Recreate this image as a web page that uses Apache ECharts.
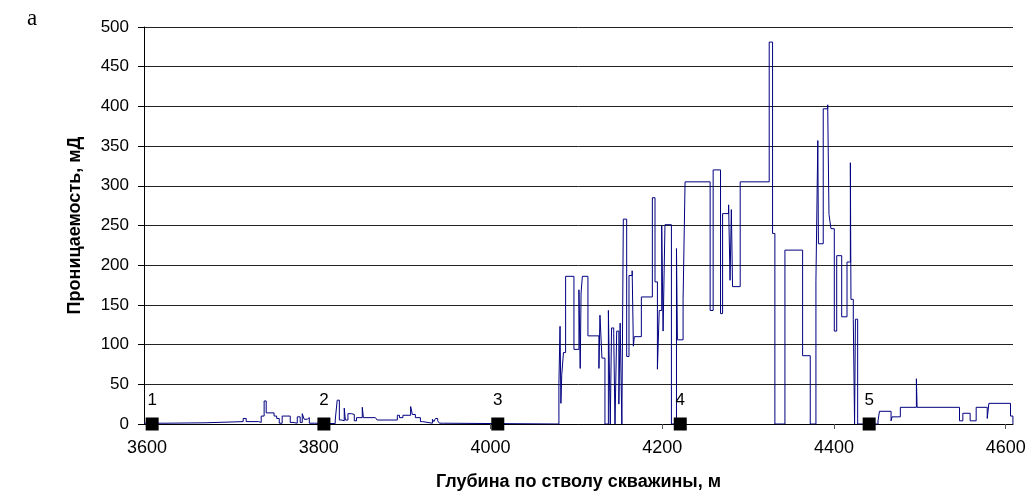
<!DOCTYPE html>
<html>
<head>
<meta charset="utf-8">
<script src="https://cdn.jsdelivr.net/npm/echarts@6/dist/echarts.min.js"></script>
<style>
html,body{margin:0;padding:0;background:#fff;}
#chart{width:1032px;height:498px;}
</style>
</head>
<body>
<div id="chart"></div>
<script>
// Depth (m) where each permeability step begins
const depths = [
3596.5,3621,3667.6,3712,3715.5,3730,3733,3736.4,3738.8,3748,3751,3754,3757.4,3766.8,3770,3775,3778.4,3780.8,3783,3786.6,3789,3795,
3819.2,3821.5,3824,3827,3829.7,3831,3834,3838,3841.4,3844,3850.7,3852,3866,3868,
3891.5,3894,3898,3907,3909,3912.5,3918.4,3921,3932.4,3934,3936,3938.5,3940.5,3945.2,
4079.7,4081,4082,4083,4085,4087.5,4097.2,4103,4104.5,4105.5,4107,4113.5,
4126.3,4127.5,4129.8,4133.3,4137.3,4139.5,4141,4143.5,4145,4147,4149.5,4151,4153,
4154.7,4158.6,4161.3,4165,4166.4,4167.5,4175.7,4188.5,4191.6,4194.4,4196.5,4199.4,4201,4203.2,4210.7,
4216.6,4217.7,4224.3,4226.6,4255.8,4259.3,4267.9,4270.3,4277.3,4279,4280.5,4281.9,4290.8,
4324.6,4328.5,4331.2,4342.9,4363.5,4372.4,4379,4381.2,4381.9,4387.5,4392.7,4394.2,4396.5,4400.4,4403.2,4409,4415.2,4419.1,4419.8,
4422.5,4424,4425,4427.6,
4451.3,4453,4466.5,4467.6,4477.3,4496,4496.8,4546.2,4550.1,4558.6,4565.6,4578.5,4580.4,4605.6,4608.4
];
// Permeability (mD) of each step
const perms = [
1,1.5,3,7,3,2,10,29,14,10,7,1,10,2,1,9,2,13,6,8,1,0.5,
5,30,5,4,20,5,13,12,4,8,21,8,6,5,
11,8,11,22,12,8,3,1,6,3,7,4,1,0,
51,123,26,62,90,186,94,169,70,165,186,111,
70,137,83,0,143,0,121,114,0,117,25,127,0,
258,85,187,193,98,110,160,285,179,69,143,250,117,251,0,
221,106,157,305,143,320,139,265,276,181,270,173,305,
481,240,0,219,86,0,181,357,227,397,402,264,246,117,212,135,204,329,157,
132,0,132,0,
4,16,4,9,21,57,21,4,13.5,4,21,7,26,10,0
];
const markerDepths = [3606, 3806, 4008.5, 4221, 4441];
const markerLabels = ['1','2','3','4','5'];
const xTickValues = [3600, 3800, 4000, 4200, 4400, 4600];

const lineData = depths.map((d, i) => [d, perms[i]]);
const markerData = markerDepths.map((d, i) => ({value: [d, 0], name: markerLabels[i]}));

const chart = echarts.init(document.getElementById('chart'), null, {renderer: 'canvas'});
const font = 'Liberation Sans, Arial, sans-serif';
chart.setOption({
  animation: false,
  backgroundColor: '#fff',
  grid: {left: 144, right: 19, top: 27, bottom: 74, containLabel: false},
  graphic: [{
    type: 'text', left: 27, top: 7,
    style: {text: 'a', font: '23px "Liberation Serif", "Times New Roman", serif', fill: '#000'}
  }],
  xAxis: {
    type: 'value', min: 3596.5, max: 4608.5,
    name: 'Глубина по стволу скважины, м',
    nameLocation: 'middle', nameGap: 49,
    nameTextStyle: {fontFamily: font, fontSize: 18, fontWeight: 'bold', color: '#000'},
    axisLine: {show: true, lineStyle: {color: '#000', width: 1}},
    axisTick: {show: true, length: 5, customValues: xTickValues, lineStyle: {color: '#555'}},
    axisLabel: {customValues: xTickValues, formatter: v => String(v), fontFamily: font, fontSize: 18, color: '#000', margin: 15},
    splitLine: {show: false}
  },
  yAxis: {
    type: 'value', min: 0, max: 500, interval: 50,
    name: 'Проницаемость, мД',
    nameLocation: 'middle', nameGap: 60, nameRotate: 90,
    nameTextStyle: {fontFamily: font, fontSize: 18, fontWeight: 'bold', color: '#000'},
    axisLine: {show: true, lineStyle: {color: '#000', width: 1}},
    axisTick: {show: true, inside: false, length: 6, lineStyle: {color: '#000'}},
    axisLabel: {fontFamily: font, fontSize: 17, color: '#000', margin: 15},
    splitLine: {show: true, lineStyle: {color: '#222', width: 1}}
  },
  series: [{
    type: 'line', step: 'end', data: lineData, showSymbol: false, symbol: 'none',
    lineStyle: {color: '#000080', width: 1}, z: 3
  }, {
    type: 'scatter', data: markerData, symbol: 'rect', symbolSize: 13,
    itemStyle: {color: '#000', opacity: 1}, z: 5,
    label: {show: true, position: 'top', distance: 9, formatter: p => p.name,
      fontFamily: font, fontSize: 17, color: '#000'}
  }]
});
</script>
</body>
</html>
